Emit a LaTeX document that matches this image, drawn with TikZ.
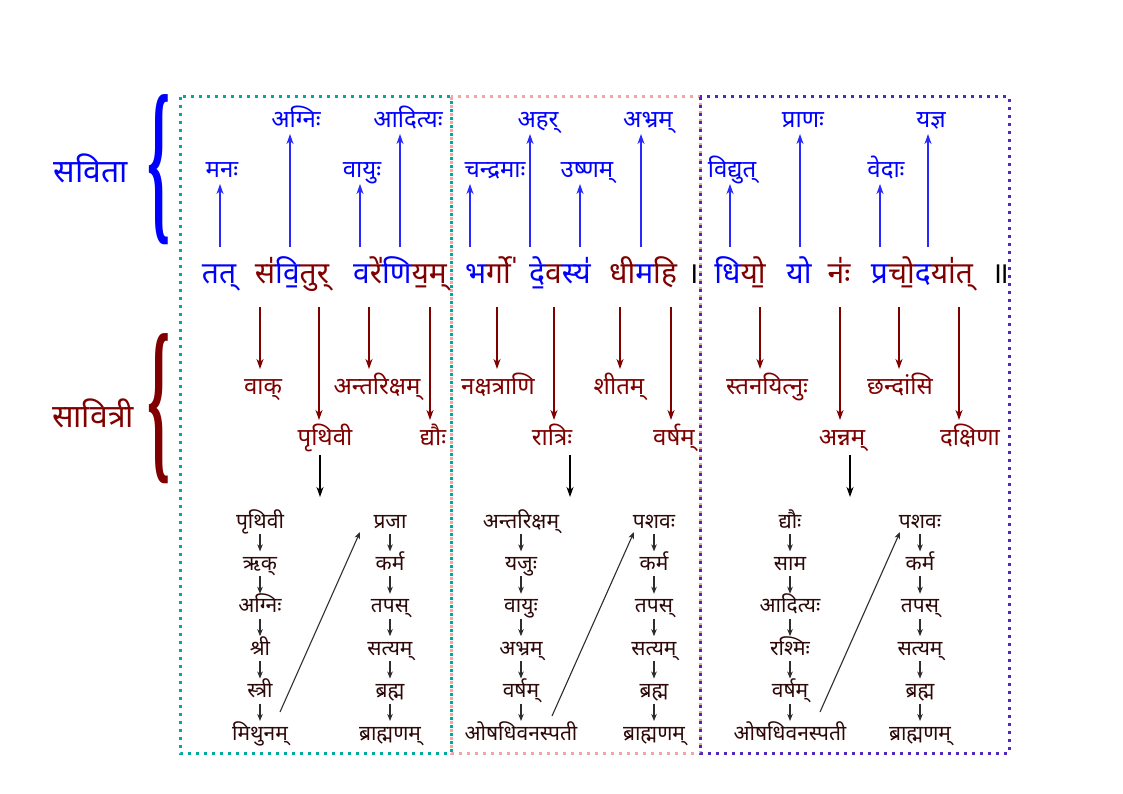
\documentclass[tikz,border=0pt]{standalone}
\usepackage{fontspec}
\usepackage{graphicx}
\usetikzlibrary{arrows.meta,calc}
\newfontfamily\dev[Script=Devanagari]{Noto Sans}
\newfontfamily\bracefont{Liberation Serif}
\definecolor{vblue}{RGB}{0,0,255}
\definecolor{ablue}{RGB}{40,40,255}
\definecolor{vred}{RGB}{128,0,0}
\definecolor{vdark}{RGB}{45,8,8}
\definecolor{agray}{RGB}{45,45,45}
\definecolor{bteal}{RGB}{0,168,160}
\definecolor{bpink}{RGB}{242,165,165}
\definecolor{bpurp}{RGB}{80,40,190}
\newcommand{\sB}[1]{\textcolor{vblue}{#1}}
\newcommand{\sR}[1]{\textcolor{vred}{#1}}
\tikzset{
  boxline/.style={line width=3pt, dash pattern=on 3pt off 5pt},
  biglab/.style={font=\dev\fontsize{32}{34}\selectfont, anchor=base, inner sep=0pt},
  mantra/.style={font=\dev\fontsize{30}{32}\selectfont, anchor=base, inner sep=0pt},
  uplab/.style={font=\dev\fontsize{24}{26}\selectfont, text=vblue, anchor=base, inner sep=0pt},
  dnlab/.style={font=\dev\fontsize{24}{26}\selectfont, text=vred, anchor=base, inner sep=0pt},
  lst/.style={font=\dev\fontsize{21}{23}\selectfont, text=vdark, anchor=base, inner sep=0pt},
  uparr/.style={draw=ablue, line width=1.4pt, -{Stealth[length=10pt,width=7pt,inset=3pt]}},
  dnarr/.style={draw=vred, line width=1.4pt, -{Stealth[length=10pt,width=7pt,inset=3pt]}},
  blkarr/.style={draw=black, line width=1.4pt, -{Stealth[length=10pt,width=7pt,inset=3pt]}},
  sarr/.style={draw=agray, line width=1.1pt, -{Stealth[length=7pt,width=5.5pt,inset=2pt]}},
  bracenode/.style={inner sep=0pt}
}
\begin{document}
\begin{tikzpicture}[x=1pt,y=-1pt]
\useasboundingbox (0,0) rectangle (1123,794);

% dotted boxes
\draw[boxline,bteal] (180,97) rectangle (451,753);
\draw[boxline,bpink] (451,97) rectangle (700,753);
\draw[boxline,bpurp] (700,97) rectangle (1009,753);

% left labels and braces
\node[biglab,text=vblue] (savita) at (91,183) {सविता};
\node[biglab,text=vred] (savitri) at (93,427) {सावित्री};
\node[bracenode,text=vblue] (brace1) at (159,170) {\resizebox*{23pt}{150pt}{\bracefont\bfseries\{}};
\node[bracenode,text=vred] (brace2) at (159,409) {\resizebox*{23pt}{150pt}{\bracefont\bfseries\{}};

% mantra
\node[mantra] (w1) at (219,283) {\sB{तत्}};
\node[mantra] (w2) at (292,283) {\sR{स॑}\sB{वि॒}\sR{तुर्}};
\node[mantra] (w3) at (400,283) {\sB{व}\sR{रे॑}\sB{णि}\sR{य॒म्}};
\node[mantra] (w4) at (488,283) {\sB{भ}\sR{र्गो॑}};
\node[mantra] (w5) at (560,283) {\sB{दे॒}\sR{व}\sB{स्य॑}};
\node[mantra] (w6) at (643,283) {\sR{धी}\sB{म}\sR{हि}};
\node[mantra] (dn1) at (693,283) {।};
\node[mantra] (w7) at (740,283) {\sB{धि}\sR{यो॒}};
\node[mantra] (w8) at (799,283) {\sB{यो}};
\node[mantra] (w9) at (839,283) {\sR{नः॑}};
\node[mantra] (w10) at (922,283) {\sB{प्र}\sR{चो॒}\sB{द}\sR{या॑त्}};
\node[mantra] (dn2) at (1000,283) {॥};

% upper (Savita) labels
\node[uplab] (l1) at (222,178) {मनः};
\node[uplab] (l2) at (296,128) {अग्निः};
\node[uplab] (l3) at (362,178) {वायुः};
\node[uplab] (l4) at (408,128) {आदित्यः};
\node[uplab] (l5) at (495,178) {चन्द्रमाः};
\node[uplab] (l6) at (538,128) {अहर्};
\node[uplab] (l7) at (587,178) {उष्णम्};
\node[uplab] (l8) at (648,128) {अभ्रम्};
\node[uplab] (l9) at (732,178) {विद्युत्};
\node[uplab] (l10) at (803,128) {प्राणः};
\node[uplab] (l11) at (886,178) {वेदाः};
\node[uplab] (l12) at (931,128) {यज्ञ};

% lower (Savitri) labels
\node[dnlab] (m1) at (263,394) {वाक्};
\node[dnlab] (m2) at (325,445) {पृथिवी};
\node[dnlab] (m3) at (377,394) {अन्तरिक्षम्};
\node[dnlab] (m4) at (433,445) {द्यौः};
\node[dnlab] (m5) at (498,394) {नक्षत्राणि};
\node[dnlab] (m6) at (552,445) {रात्रिः};
\node[dnlab] (m7) at (619,394) {शीतम्};
\node[dnlab] (m8) at (674,445) {वर्षम्};
\node[dnlab] (m9) at (767,394) {स्तनयित्नुः};
\node[dnlab] (m10) at (842,445) {अन्नम्};
\node[dnlab] (m11) at (900,394) {छन्दांसि};
\node[dnlab] (m12) at (970,445) {दक्षिणा};

% syllable anchor points
\foreach \i/\x in {1/220,2/290,3/360,4/400,5/470,6/530,7/580,8/641,9/730,10/800,11/880,12/928}
  \coordinate (u\i) at (\x,247);
\foreach \i/\x in {1/260,2/319,3/369,4/430,5/497,6/554,7/620,8/671,9/760,10/840,11/899,12/959}
  \coordinate (d\i) at (\x,307);

\foreach \i in {1,...,12}{
  \draw[uparr] (u\i) -- ($(u\i |- l\i.base)+(0,6)$);
  \draw[dnarr] (d\i) -- ($(d\i |- m\i.base)+(0,-25)$);
}

% lists
\foreach [count=\r] \t in {पृथिवी,ऋक्,अग्निः,श्री,स्त्री,मिथुनम्}
  \node[lst] (a1\r) at (260,{528+42.4*(\r-1)}) {\t};
\foreach [count=\r] \t in {प्रजा,कर्म,तपस्,सत्यम्,ब्रह्म,ब्राह्मणम्}
  \node[lst] (b1\r) at (390,{528+42.4*(\r-1)}) {\t};
\foreach [count=\r] \t in {अन्तरिक्षम्,यजुः,वायुः,अभ्रम्,वर्षम्,ओषधिवनस्पती}
  \node[lst] (a2\r) at (521,{528+42.4*(\r-1)}) {\t};
\foreach [count=\r] \t in {पशवः,कर्म,तपस्,सत्यम्,ब्रह्म,ब्राह्मणम्}
  \node[lst] (b2\r) at (654,{528+42.4*(\r-1)}) {\t};
\foreach [count=\r] \t in {द्यौः,साम,आदित्यः,रश्मिः,वर्षम्,ओषधिवनस्पती}
  \node[lst] (a3\r) at (790,{528+42.4*(\r-1)}) {\t};
\foreach [count=\r] \t in {पशवः,कर्म,तपस्,सत्यम्,ब्रह्म,ब्राह्मणम्}
  \node[lst] (b3\r) at (920,{528+42.4*(\r-1)}) {\t};

\foreach \cc in {a1,b1,a2,b2,a3,b3}{
  \foreach \ra/\rb in {1/2,2/3,3/4,4/5,5/6}{
    \draw[sarr] ($(\cc\ra.base)+(0,6)$) -- ($(\cc\rb.base)+(0,-19)$);
  }
}

% diagonal links
\draw[sarr] ($(a16.base)+(20,-28)$) -- ($(b11.base)+(-30,4)$);
\draw[sarr] ($(a26.base)+(31,-24)$) -- ($(b21.base)+(-20,4)$);
\draw[sarr] ($(a36.base)+(30,-28)$) -- ($(b31.base)+(-20,4)$);

% black arrows to the lists
\coordinate (k1) at (320,455);
\coordinate (k2) at (570,455);
\coordinate (k3) at (850,455);
\draw[blkarr] (k1) -- ($(k1 |- a11.base)+(0,-31)$);
\draw[blkarr] (k2) -- ($(k2 |- a21.base)+(0,-31)$);
\draw[blkarr] (k3) -- ($(k3 |- a31.base)+(0,-31)$);
\end{tikzpicture}
\end{document}
